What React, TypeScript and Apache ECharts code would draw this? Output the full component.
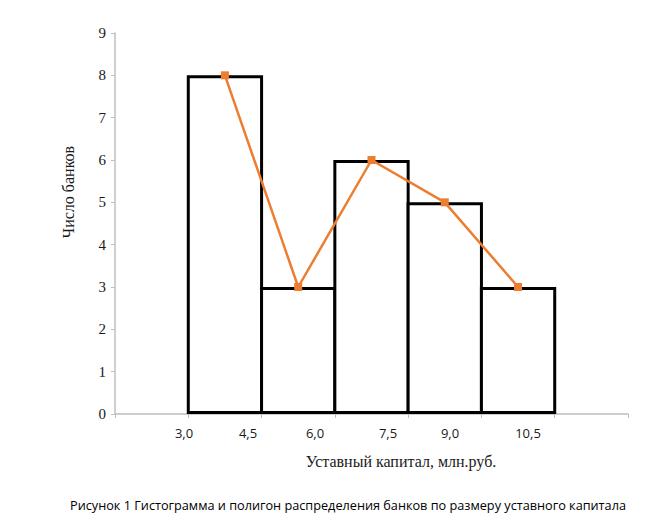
import React, { useEffect, useRef } from "react";
import * as echarts from "echarts";

const categories = ["", "3,0–4,5", "4,5–6,0", "6,0–7,5", "7,5–9,0", "9,0–10,5", ""];
const frequencies: (number | string)[] = ["-", 8, 3, 6, 5, 3, "-"];
const xTickLabels = ["3,0", "4,5", "6,0", "7,5", "9,0", "10,5"];
const xTickLabelX = [184, 248, 315, 388, 450, 528];
const yTitle = "Число банков";
const xTitle = "Уставный капитал, млн.руб.";
const caption = "Рисунок 1 Гистограмма и полигон распределения банков по размеру уставного капитала";

export default function App() {
  const ref = useRef<HTMLDivElement>(null);
  useEffect(() => {
    document.body.style.margin = "0";
    const chart = echarts.init(ref.current!, null, { renderer: "svg" });
    const graphics: any[] = xTickLabels.map((t, i) => ({
      type: "text",
      x: xTickLabelX[i],
      y: 433,
      style: {
        text: t,
        fontFamily: "Open Sans",
        fontSize: 13,
        fill: "#1a1a1a",
        align: "center",
        verticalAlign: "middle",
      },
    }));
    graphics.push(
      {
        type: "text",
        x: 401,
        y: 461,
        style: {
          text: xTitle,
          fontFamily: "Liberation Serif",
          fontSize: 16,
          fill: "#1a1a1a",
          align: "center",
          verticalAlign: "middle",
        },
      },
      {
        type: "text",
        x: 68,
        y: 192,
        rotation: Math.PI / 2,
        style: {
          text: yTitle,
          fontFamily: "Liberation Serif",
          fontSize: 16,
          fill: "#1a1a1a",
          align: "center",
          verticalAlign: "middle",
        },
      },
      {
        type: "text",
        x: 348,
        y: 505,
        style: {
          text: caption,
          fontFamily: "Open Sans",
          fontSize: 12.7,
          fill: "#000",
          align: "center",
          verticalAlign: "middle",
        },
      }
    );
    chart.setOption({
      animation: false,
      backgroundColor: "#ffffff",
      grid: { left: 115, right: 17, top: 33, bottom: 114 },
      xAxis: {
        type: "category",
        data: categories,
        boundaryGap: true,
        axisLine: { lineStyle: { color: "#bfbfbf", width: 1.5 } },
        axisTick: { show: true, length: 4, lineStyle: { color: "#bfbfbf" } },
        axisLabel: { show: false },
        splitLine: { show: false },
      },
      yAxis: {
        type: "value",
        min: 0,
        max: 9,
        interval: 1,
        axisLine: { show: true, lineStyle: { color: "#bfbfbf", width: 1.5 } },
        axisTick: { show: true, length: 4, lineStyle: { color: "#bfbfbf" } },
        axisLabel: {
          margin: 9,
          fontFamily: "Liberation Serif",
          fontSize: 15,
          color: "#1a1a1a",
        },
        splitLine: { show: false },
      },
      series: [
        {
          type: "bar",
          data: frequencies,
          barWidth: 76.3,
          itemStyle: { color: "#ffffff", borderColor: "#000000", borderWidth: 3 },
          silent: true,
        },
        {
          type: "line",
          data: frequencies,
          connectNulls: false,
          symbol: "rect",
          symbolSize: 8,
          lineStyle: { color: "#ED7D31", width: 2.5 },
          itemStyle: { color: "#ED7D31" },
          silent: true,
        },
      ],
      graphic: graphics,
    });
    return () => chart.dispose();
  }, []);
  return (
    <div
      ref={ref}
      style={{ width: 645, height: 528, position: "absolute", left: 0, top: 0 }}
    />
  );
}
